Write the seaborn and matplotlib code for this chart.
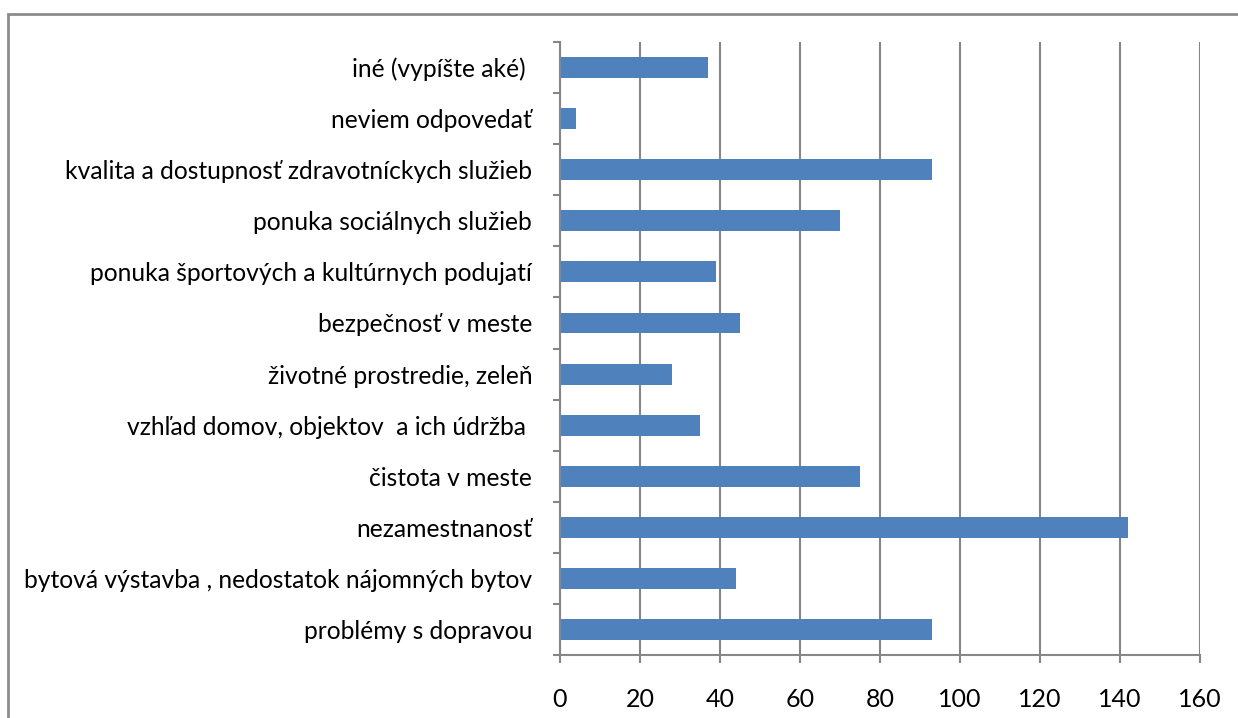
# Import Libraries

import pandas as pd
import numpy as np
import matplotlib.pyplot as plt
import seaborn as sns
from matplotlib.patches import Rectangle
from matplotlib.ticker import FixedLocator


# Data (top to bottom as in the chart)

categories = [
    "iné (vypíšte aké) ",
    "neviem odpovedať",
    "kvalita a dostupnosť zdravotníckych služieb",
    "ponuka sociálnych služieb",
    "ponuka športových a kultúrnych podujatí",
    "bezpečnosť v meste",
    "životné prostredie, zeleň",
    "vzhľad domov, objektov  a ich údržba ",
    "čistota v meste",
    "nezamestnanosť",
    "bytová výstavba , nedostatok nájomných bytov",
    "problémy s dopravou",
]
counts = [37, 4, 93, 70, 39, 45, 28, 35, 75, 142, 44, 93]
x_ticks = [0, 20, 40, 60, 80, 100, 120, 140, 160]

df = pd.DataFrame({"kategoria": categories, "pocet": counts})


# Plot

sns.set_style("white")
plt.rcParams["font.family"] = ["Lato", "DejaVu Sans"]

fig = plt.figure(figsize=(12.38, 7.18), dpi=100)
ax = fig.add_axes([0.4523, 0.0877, 0.5170, 0.8538])

grid_col = "#868686"

sns.barplot(
    data=df,
    x="pocet",
    y="kategoria",
    orient="h",
    color="#4F81BD",
    width=0.41,
    saturation=1,
    linewidth=0,
    ax=ax,
)

ax.set_xlim(0, 160)
ax.set_ylim(len(categories) - 0.5, -0.5)
ax.set_xticks(x_ticks)
ax.xaxis.grid(True, color=grid_col, linewidth=1.5)
ax.set_axisbelow(True)
ax.set_xlabel("")
ax.set_ylabel("")

# category boundary ticks like Excel
ax.yaxis.set_minor_locator(FixedLocator(np.arange(-0.5, len(categories), 1)))
ax.tick_params(axis="y", which="minor", length=5, width=1.5, color=grid_col, left=True)
ax.tick_params(axis="y", which="major", length=0, pad=20, labelsize=17.7, labelcolor="black")
ax.tick_params(axis="x", length=6, width=1.5, color=grid_col, pad=18, labelsize=18,
               labelcolor="black", bottom=True)

for s in ["top", "right"]:
    ax.spines[s].set_visible(False)
for s in ["left", "bottom"]:
    ax.spines[s].set_color(grid_col)
    ax.spines[s].set_linewidth(1.5)

# outer chart border
fig.patches.append(Rectangle((8 / 1238, -0.01), 1.1, 1 - 14 / 718 + 0.01,
                             transform=fig.transFigure, fill=False,
                             edgecolor="#8c8c8c", linewidth=2))

plt.savefig("out.png", dpi=100)
